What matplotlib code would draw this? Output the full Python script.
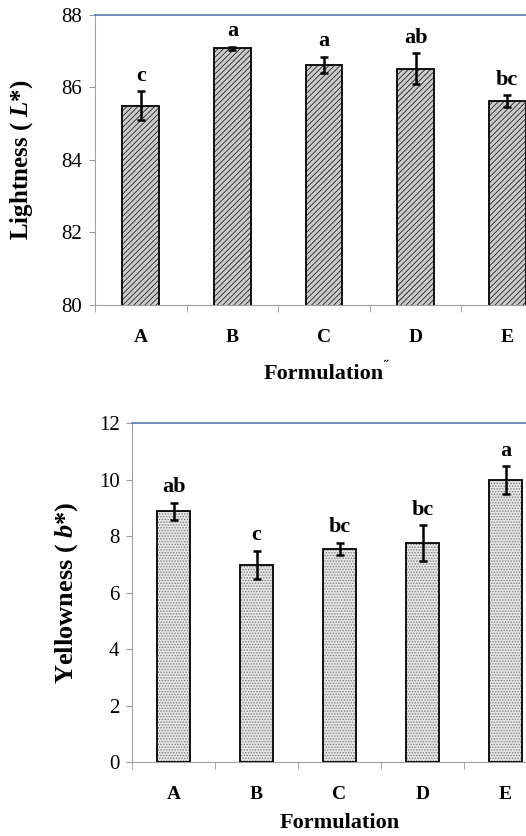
import matplotlib.pyplot as plt
import numpy as np

plt.rcParams['font.family'] = ['Liberation Serif', 'DejaVu Serif']
plt.rcParams['mathtext.fontset'] = 'custom'
plt.rcParams['mathtext.it'] = 'Liberation Serif:italic:bold'
plt.rcParams['mathtext.rm'] = 'Liberation Serif:bold'
plt.rcParams['hatch.linewidth'] = 0.7

formulations = ['A', 'B', 'C', 'D', 'E']

lightness = [85.5, 87.08, 86.63, 86.52, 85.62]
lightness_err = [0.40, 0.05, 0.22, 0.42, 0.17]
lightness_letters = ['c', 'a', 'a', 'ab', 'bc']

yellowness = [8.88, 6.98, 7.55, 7.75, 9.98]
yellowness_err = [0.30, 0.50, 0.22, 0.63, 0.50]
yellowness_letters = ['ab', 'c', 'bc', 'bc', 'a']

fig = plt.figure(figsize=(5.26, 8.36), dpi=100)
ax_l = fig.add_axes([0.1806, 0.6352, 0.8707, 0.3469])
ax_y = fig.add_axes([0.2510, 0.0885, 0.7890, 0.4055])

x = np.arange(len(formulations))


def draw_panel(ax, values, errors, letters, hatch, face, hatch_col, ylim, yticks,
               ylabel, ylabel_size, ylabel_x, xlabel_y):
    ax.bar(x, values, width=0.40, color=face, hatch=hatch, edgecolor=hatch_col,
           linewidth=0, zorder=2)
    ax.bar(x, values, width=0.40, color='none', edgecolor='black',
           linewidth=1.3, zorder=3)
    ax.errorbar(x, values, yerr=errors, fmt='none', ecolor='black',
                elinewidth=1.8, capsize=3, capthick=1.8, zorder=4)
    for xi, v, e, lab in zip(x, values, errors, letters):
        ax.annotate(lab, xy=(xi, v + e), xytext=(0, 11), textcoords='offset points',
                    ha='center', va='center', fontsize=16, fontweight='bold')
    ax.set_xlim(-0.5, 4.5)
    ax.set_ylim(*ylim)
    ax.set_yticks(yticks)
    ax.set_yticklabels([f'{t:g}' for t in yticks], fontsize=15)
    ax.set_xticks(x)
    ax.set_xticklabels(formulations, fontsize=14, fontweight='bold')
    ax.set_xticks(np.arange(-0.5, 5.0, 1.0), minor=True)
    ax.tick_params(axis='x', which='major', length=0, pad=17)
    ax.tick_params(axis='x', which='minor', length=5, color='#999999', direction='out')
    ax.tick_params(axis='y', length=4, color='#999999', pad=5)
    ax.spines['top'].set_color('#5a78b0')
    ax.spines['top'].set_linewidth(1.2)
    ax.spines['right'].set_visible(False)
    ax.spines['left'].set_color('#a0a0a0')
    ax.spines['bottom'].set_color('#a0a0a0')
    ax.set_ylabel(ylabel, fontsize=ylabel_size, fontweight='bold')
    ax.yaxis.set_label_coords(ylabel_x, 0.5)
    ax.set_xlabel('Formulation', fontsize=16, fontweight='bold')
    ax.xaxis.set_label_coords(0.5, xlabel_y)


draw_panel(ax_l, lightness, lightness_err, lightness_letters, '//////', '#cccccc',
           '#383838', (80, 88), [80, 82, 84, 86, 88],
           r'Lightness ( $\mathit{L}$*)', 18, -0.131, -0.205)
draw_panel(ax_y, yellowness, yellowness_err, yellowness_letters, '......', '#e6e6e6',
           '#808080', (0, 12), [0, 2, 4, 6, 8, 10, 12],
           r'Yellowness ( $\mathit{b}$*)', 19, -0.125, -0.150)

fig.text(0.728, 0.558, '\u02dd', fontsize=10, fontweight='bold')

fig.savefig('out.png', dpi=100)
